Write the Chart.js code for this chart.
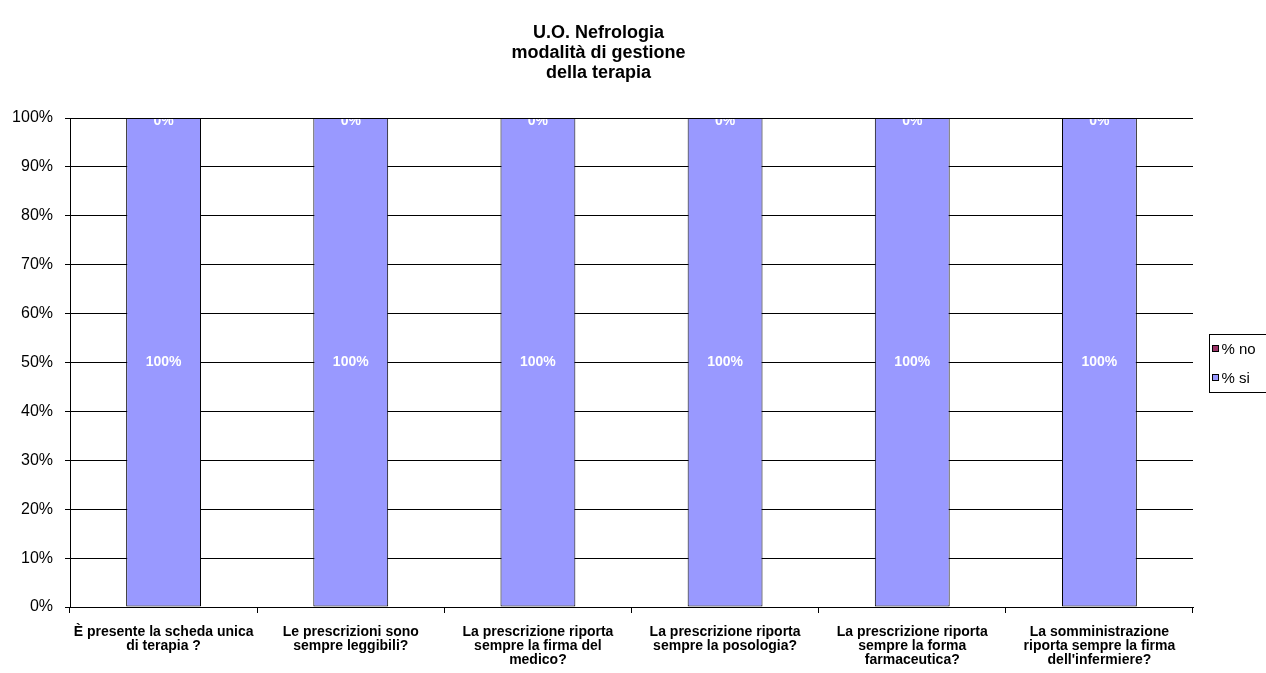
<!DOCTYPE html>
<html>
<head>
<meta charset="utf-8">
<script src="https://cdn.jsdelivr.net/npm/chart.js@4.4.0/dist/chart.umd.min.js"></script>
<style>
  html, body { margin: 0; padding: 0; background: #fff; }
  #wrap { width: 1266px; height: 673px; position: relative; }
</style>
</head>
<body>
<div id="wrap"><canvas id="chart"></canvas></div>
<script>
// dati
const categories = [
  ['È presente la scheda unica', 'di terapia ?'],
  ['Le prescrizioni sono', 'sempre leggibili?'],
  ['La prescrizione riporta', 'sempre la firma del', 'medico?'],
  ['La prescrizione riporta', 'sempre la posologia?'],
  ['La prescrizione riporta', 'sempre la forma', 'farmaceutica?'],
  ['La somministrazione', 'riporta sempre la firma', "dell'infermiere?"]
];
const siValues = [100, 100, 100, 100, 100, 100];
const noValues = [0, 0, 0, 0, 0, 0];
const titleLines = ['U.O. Nefrologia', 'modalità di gestione', 'della terapia'];

const FONT = 'Arial, "Liberation Sans", sans-serif';

// titolo centrato sulla zona a sinistra della legenda
const titlePlugin = {
  id: 'titleLines',
  afterDraw(chart) {
    const ctx = chart.ctx;
    const cx = (chart.chartArea.right + 16) / 2 - 6;
    ctx.save();
    ctx.fillStyle = '#000';
    ctx.font = 'bold 18px ' + FONT;
    ctx.textAlign = 'center';
    ctx.textBaseline = 'middle';
    titleLines.forEach((t, i) => ctx.fillText(t, cx, 33 + i * 20));
    ctx.restore();
  }
};

// etichette dei valori dentro le barre
const valueLabels = {
  id: 'valueLabels',
  afterDatasetsDraw(chart) {
    const ctx = chart.ctx;
    const area = chart.chartArea;
    ctx.save();
    ctx.beginPath();
    ctx.rect(area.left, area.top + 1, area.right - area.left, area.bottom - area.top);
    ctx.clip();
    ctx.fillStyle = '#fff';
    ctx.font = 'bold 14px ' + FONT;
    ctx.textAlign = 'center';
    ctx.textBaseline = 'middle';
    chart.data.datasets.forEach((ds, i) => {
      chart.getDatasetMeta(i).data.forEach((bar, j) => {
        const p = bar.getProps(['x', 'y', 'base'], true);
        let y = (p.y + p.base) / 2;
        if (Math.abs(p.base - p.y) < 1) y += 3;
        ctx.fillText(ds.data[j] + '%', p.x, y);
      });
    });
    ctx.restore();
  }
};

// legenda con bordo, a destra del grafico
const boxLegend = {
  id: 'boxLegend',
  afterDraw(chart) {
    const ctx = chart.ctx;
    const area = chart.chartArea;
    const items = chart.data.datasets.slice().reverse();
    const left = Math.round(area.right + 16) + 0.5;
    const step = 29;
    const h = items.length * step;
    const top = Math.round((area.top + area.bottom) / 2 - h / 2) + 0.5;
    ctx.save();
    ctx.strokeStyle = '#000';
    ctx.lineWidth = 1;
    ctx.strokeRect(left, top, 80, h);
    ctx.font = '15px ' + FONT;
    ctx.textBaseline = 'middle';
    ctx.textAlign = 'left';
    items.forEach((ds, i) => {
      const cy = top + 15 + i * step;
      ctx.fillStyle = ds.backgroundColor;
      ctx.fillRect(left + 3, cy - 4, 6, 6);
      ctx.strokeRect(left + 3, cy - 4, 6, 6);
      ctx.fillStyle = '#000';
      ctx.fillText(ds.label, left + 12, cy);
    });
    ctx.restore();
  }
};

new Chart(document.getElementById('chart'), {
  type: 'bar',
  data: {
    labels: categories,
    datasets: [
      {
        label: '% si',
        data: siValues,
        backgroundColor: '#9999FF',
        borderColor: '#000',
        borderWidth: 1,
        borderSkipped: false,
        categoryPercentage: 1,
        barPercentage: 0.4
      },
      {
        label: '% no',
        data: noValues,
        backgroundColor: '#993366',
        borderColor: '#000',
        borderWidth: 1,
        borderSkipped: false,
        categoryPercentage: 1,
        barPercentage: 0.4
      }
    ]
  },
  options: {
    responsive: true,
    maintainAspectRatio: false,
    animation: false,
    layout: { padding: { top: 118, right: 73, bottom: 0, left: 0 } },
    plugins: {
      title: { display: false },
      tooltip: { enabled: false },
      legend: { display: false }
    },
    scales: {
      x: {
        stacked: true,
        grid: { display: true, drawOnChartArea: false, offset: true, color: '#000', tickLength: 6 },
        border: { color: '#000' },
        ticks: {
          color: '#000',
          font: { family: FONT, size: 14, weight: 'bold', lineHeight: 1.0 },
          maxRotation: 0,
          autoSkip: false,
          padding: 12
        },
        afterFit(scale) { scale.height = 66; }
      },
      y: {
        stacked: true,
        min: 0,
        max: 100,
        grid: { color: '#000', tickLength: 5 },
        border: { color: '#000' },
        ticks: {
          stepSize: 10,
          color: '#000',
          font: { family: FONT, size: 16 },
          padding: 12,
          callback: v => v + '%'
        },
        afterFit(scale) { scale.width = 70; }
      }
    }
  },
  plugins: [titlePlugin, valueLabels, boxLegend]
});
</script>
</body>
</html>
